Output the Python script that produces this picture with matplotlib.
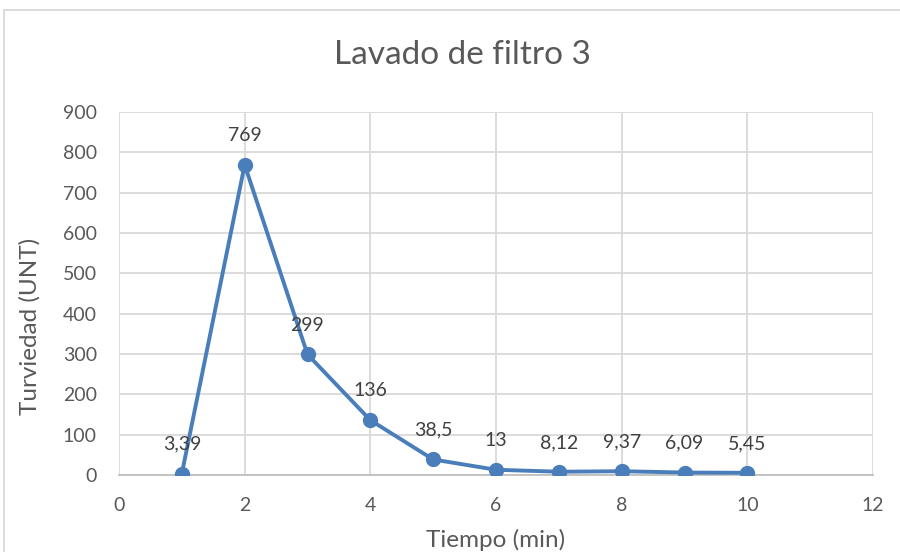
import matplotlib
matplotlib.use("Agg")
from matplotlib import pyplot as plt
from matplotlib.patches import Rectangle

# turbidity during filter wash
tiempo = [1, 2, 3, 4, 5, 6, 7, 8, 9, 10]
turbiedad = [3.39, 769, 299, 136, 38.5, 13, 8.12, 9.37, 6.09, 5.45]
etiquetas = ["3,39", "769", "299", "136", "38,5", "13", "8,12", "9,37", "6,09", "5,45"]
xticks = [0, 2, 4, 6, 8, 10, 12]
yticks = [0, 100, 200, 300, 400, 500, 600, 700, 800, 900]

plt.rcParams["font.family"] = ["Lato", "DejaVu Sans"]
gris = "#595959"
azul = "#4A7EBB"

fig = plt.figure(figsize=(9, 5.52), dpi=100)
ax = fig.add_axes([119 / 900, 1 - 475 / 552, 754 / 900, 363 / 552])

ax.plot(tiempo, turbiedad, "-o", color=azul, lw=2.8, markersize=10, zorder=3)
for x, y, t in zip(tiempo, turbiedad, etiquetas):
    ax.annotate(t, (x, y), xytext=(0, 15), textcoords="offset points",
                ha="center", va="bottom", fontsize=14, color="#404040")

ax.set_xlim(0, 12)
ax.set_ylim(0, 900)
ax.set_xticks(xticks)
ax.set_yticks(yticks)
ax.grid(color="#D9D9D9", lw=1.3)
ax.set_axisbelow(True)
for s in ["top", "right", "left"]:
    ax.spines[s].set_visible(False)
ax.spines["bottom"].set_color("#BFBFBF")
ax.spines["bottom"].set_linewidth(1.3)
ax.tick_params(axis="y", length=0, labelsize=14, colors=gris, pad=16)
ax.tick_params(axis="x", length=0, labelsize=14, colors=gris, pad=16)

ax.set_xlabel("Tiempo (min)", fontsize=17.5, color=gris, va="center")
ax.set_ylabel("Turviedad (UNT)", fontsize=17.5, color=gris, va="center")
ax.xaxis.set_label_coords(0.5, -0.179)
ax.yaxis.set_label_coords(-0.118, 0.408)
fig.text(462 / 900, 1 - 55 / 552, "Lavado de filtro 3", ha="center", va="center",
         fontsize=24, color=gris)

# chart border
fig.patches.append(Rectangle((4 / 900, -0.1), 1.2, 1.1 - 10 / 552, transform=fig.transFigure,
                             fill=False, edgecolor="#D9D9D9", lw=1.3))

fig.savefig("out.png", dpi=100)
